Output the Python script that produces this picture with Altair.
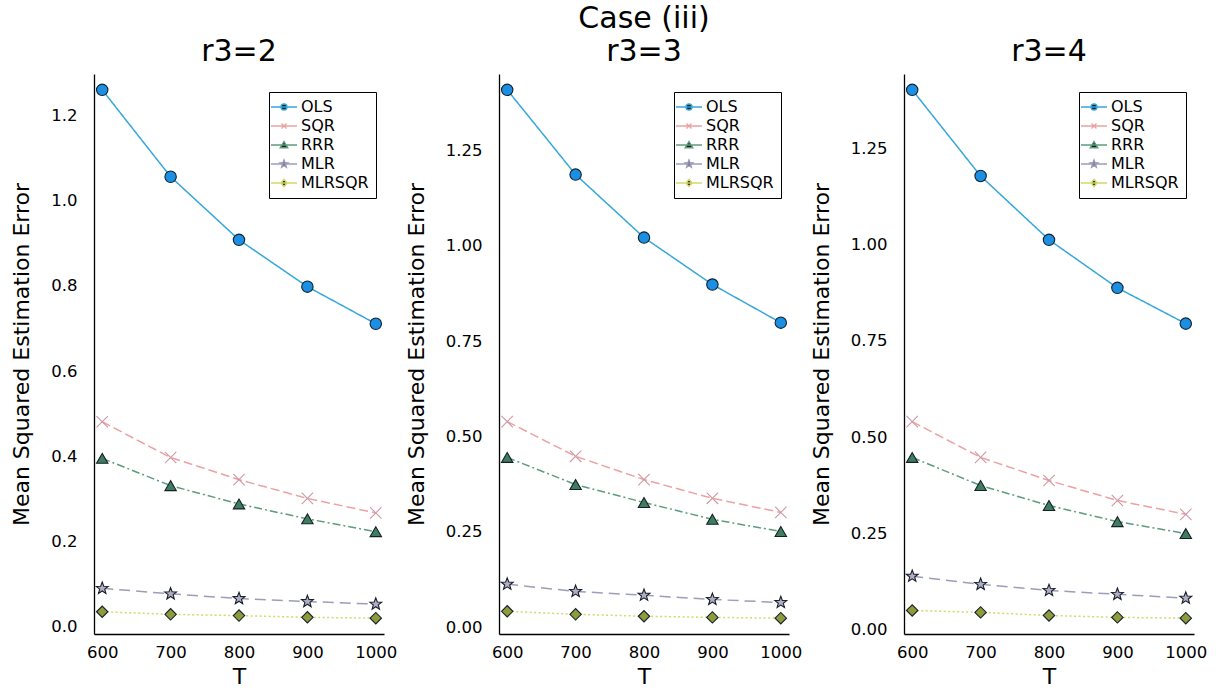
import altair as alt
import numpy as np
import pandas as pd

T_vals = [600, 700, 800, 900, 1000]
methods = ["OLS", "SQR", "RRR", "MLR", "MLRSQR"]

# panel r3=2
p1_OLS = [1.260, 1.056, 0.908, 0.798, 0.711]
p1_SQR = [0.481, 0.397, 0.345, 0.301, 0.267]
p1_RRR = [0.395, 0.331, 0.288, 0.253, 0.223]
p1_MLR = [0.090, 0.077, 0.066, 0.059, 0.053]
p1_MLRSQR = [0.035, 0.029, 0.026, 0.022, 0.020]
# panel r3=3
p2_OLS = [1.408, 1.186, 1.021, 0.898, 0.798]
p2_SQR = [0.539, 0.448, 0.387, 0.338, 0.301]
p2_RRR = [0.445, 0.374, 0.327, 0.283, 0.251]
p2_MLR = [0.113, 0.094, 0.084, 0.073, 0.065]
p2_MLRSQR = [0.042, 0.034, 0.029, 0.026, 0.024]
# panel r3=4
p3_OLS = [1.403, 1.179, 1.013, 0.888, 0.795]
p3_SQR = [0.540, 0.447, 0.387, 0.335, 0.299]
p3_RRR = [0.447, 0.374, 0.322, 0.280, 0.249]
p3_MLR = [0.138, 0.117, 0.101, 0.091, 0.081]
p3_MLRSQR = [0.049, 0.044, 0.036, 0.031, 0.029]

panels = [
    ("r3=2", [p1_OLS, p1_SQR, p1_RRR, p1_MLR, p1_MLRSQR], [0, 0.2, 0.4, 0.6, 0.8, 1.0, 1.2], ".1f", "r3=2"),
    ("r3=3", [p2_OLS, p2_SQR, p2_RRR, p2_MLR, p2_MLRSQR], [0, 0.25, 0.5, 0.75, 1.0, 1.25], ".2f", ["Case (iii)", "r3=3"]),
    ("r3=4", [p3_OLS, p3_SQR, p3_RRR, p3_MLR, p3_MLRSQR], [0, 0.25, 0.5, 0.75, 1.0, 1.25], ".2f", "r3=4"),
]

line_colors = ["#35a7db", "#eca2a2", "#5f9c7c", "#9b9db9", "#d4d86a"]
dashes = [[1, 0], [9, 4], [8, 3, 2, 3], [11, 6], [2, 2.5]]
marker_fill = ["#1b8fe3", "#d9a0a8", "#3e7d5d", "#b4aec4", "#8d9b3a"]
marker_stroke = ["#15202b", "#cf97a4", "#15202b", "#15202b", "#15202b"]


def star_path(scale=1.0, r_in=0.42):
    pts = []
    for k in range(10):
        a = np.deg2rad(-90 + 36 * k)
        r = scale if k % 2 == 0 else scale * r_in
        pts.append(f"{r*np.cos(a):.3f},{r*np.sin(a):.3f}")
    return "M" + "L".join(pts) + "Z"


marker_shapes = ["circle", "M-1,-1L1,1M-1,1L1,-1", "triangle-up", star_path(1.1), "diamond"]
seg = "M-2.6,0L2.6,0"
legend_paths = [
    seg + "M0.6,0A0.6,0.6,0,1,1,-0.6,0A0.6,0.6,0,1,1,0.6,0Z",
    seg + "M-0.5,-0.5L0.5,0.5M-0.5,0.5L0.5,-0.5",
    seg + "M0,-0.7L0.75,0.55L-0.75,0.55Z",
    seg + star_path(0.8),
    seg + "M0,-0.75L0.6,0L0,0.75L-0.6,0Z",
]

FONT = "DejaVu Sans"
W, H = 290, 560


def make_panel(series, yticks, yfmt, title):
    rows = []
    for m, vals in zip(methods, series):
        for t, v in zip(T_vals, vals):
            rows.append({"T": t, "value": v, "method": m})
    df = pd.DataFrame(rows)
    allv = [v for s in series for v in s]
    lo, hi = min(allv), max(allv)
    pad = 0.03 * (hi - lo)
    ydom = [lo - pad, hi + pad]
    xpad = 0.03 * (max(T_vals) - min(T_vals))
    xdom = [min(T_vals) - xpad, max(T_vals) + xpad]

    base = alt.Chart(df).encode(
        x=alt.X("T:Q", scale=alt.Scale(domain=xdom, nice=False, zero=False),
                axis=alt.Axis(values=T_vals, format="d", title="T", ticks=False,
                              labelPadding=10, titlePadding=6)),
        y=alt.Y("value:Q", scale=alt.Scale(domain=ydom, nice=False, zero=False),
                axis=alt.Axis(values=yticks, format=yfmt, title="Mean Squared Estimation Error",
                              ticks=False, labelPadding=17, titlePadding=17)),
    )
    lines = base.mark_line(strokeWidth=1.5).encode(
        color=alt.Color("method:N", scale=alt.Scale(domain=methods, range=line_colors), legend=None),
        strokeDash=alt.StrokeDash("method:N", scale=alt.Scale(domain=methods, range=dashes), legend=None),
    )
    points = base.mark_point(opacity=1, size=130, strokeWidth=1.1).encode(
        shape=alt.Shape("method:N", scale=alt.Scale(domain=methods, range=marker_shapes), legend=None),
        fill=alt.Fill("method:N", scale=alt.Scale(domain=methods, range=marker_fill), legend=None),
        stroke=alt.Stroke("method:N", scale=alt.Scale(domain=methods, range=marker_stroke), legend=None),
    )
    leg = alt.Legend(title=None, orient="none", legendX=175, legendY=18, labelFontSize=16,
                     labelFont=FONT, labelColor="black", padding=7, strokeColor="black",
                     fillColor="white", symbolSize=100, symbolStrokeWidth=1.4, symbolOffset=0,
                     labelOffset=9, rowPadding=3)
    legend_layer = base.transform_filter("false").mark_point(
        opacity=1, size=100, fill="#1a1a1a", strokeWidth=1.4
    ).encode(
        shape=alt.Shape("method:N", scale=alt.Scale(domain=methods, range=legend_paths), legend=leg),
        stroke=alt.Stroke("method:N", scale=alt.Scale(domain=methods, range=line_colors), legend=leg),
    )
    return alt.layer(lines, points, legend_layer).resolve_scale(
        shape="independent", stroke="independent"
    ).properties(
        width=W, height=H,
        title=alt.TitleParams(title, fontSize=30, font=FONT, fontWeight="normal", color="black",
                              anchor="middle", frame="group", offset=7, lineHeight=33),
    )


charts = [make_panel(s, yt, yf, tt) for _, s, yt, yf, tt in panels]

chart = alt.hconcat(*charts, spacing=115, bounds="flush").resolve_scale(
    color="independent", shape="independent", stroke="independent", fill="independent",
    strokeDash="independent",
).properties(
    padding={"left": 10, "top": 4, "right": 5, "bottom": 5},
    background="white",
).configure_view(stroke=None).configure_axis(
    labelFont=FONT, titleFont=FONT, labelFontSize=16.5, titleFontSize=22,
    titleFontWeight="normal", labelColor="black", titleColor="black",
    domainColor="black", domainWidth=1.3, grid=False,
)

chart.save("out.html", embed_options={"renderer": "svg", "actions": False})
